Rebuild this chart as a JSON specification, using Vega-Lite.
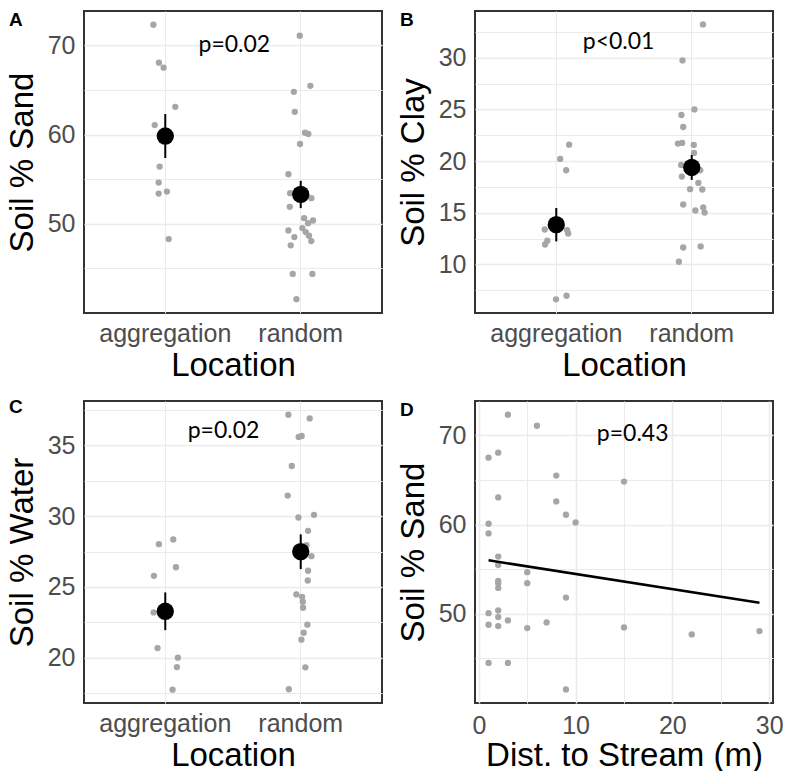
{
  "$schema": "https://vega.github.io/schema/vega-lite/v6.json",
  "background": "white",
  "padding": {"left": 5, "top": 10, "right": 0, "bottom": 0},
  "columns": 2,
  "spacing": {"row": 88, "column": 93},
  "bounds": "flush",
  "datasets": {
    "sand": [
      {"Location": "aggregation", "Sand": 72.31, "jitter": -0.088},
      {"Location": "aggregation", "Sand": 68.06, "jitter": -0.047},
      {"Location": "aggregation", "Sand": 67.5, "jitter": -0.012},
      {"Location": "aggregation", "Sand": 63.11, "jitter": 0.074},
      {"Location": "aggregation", "Sand": 61.06, "jitter": -0.078},
      {"Location": "aggregation", "Sand": 56.41, "jitter": -0.042},
      {"Location": "aggregation", "Sand": 54.62, "jitter": -0.049},
      {"Location": "aggregation", "Sand": 53.39, "jitter": -0.049},
      {"Location": "aggregation", "Sand": 53.61, "jitter": 0.012},
      {"Location": "aggregation", "Sand": 48.29, "jitter": 0.025},
      {"Location": "random", "Sand": 71.08, "jitter": -0.007},
      {"Location": "random", "Sand": 65.46, "jitter": 0.071},
      {"Location": "random", "Sand": 64.79, "jitter": -0.051},
      {"Location": "random", "Sand": 62.55, "jitter": -0.044},
      {"Location": "random", "Sand": 60.2, "jitter": 0.032},
      {"Location": "random", "Sand": 60.06, "jitter": 0.056},
      {"Location": "random", "Sand": 58.94, "jitter": -0.005},
      {"Location": "random", "Sand": 55.55, "jitter": -0.091},
      {"Location": "random", "Sand": 53.43, "jitter": -0.078},
      {"Location": "random", "Sand": 52.87, "jitter": 0.078},
      {"Location": "random", "Sand": 51.9, "jitter": -0.081},
      {"Location": "random", "Sand": 50.63, "jitter": 0.025},
      {"Location": "random", "Sand": 50.37, "jitter": 0.091},
      {"Location": "random", "Sand": 50.07, "jitter": 0.054},
      {"Location": "random", "Sand": 49.52, "jitter": 0.012},
      {"Location": "random", "Sand": 49.26, "jitter": -0.091},
      {"Location": "random", "Sand": 49.07, "jitter": 0.037},
      {"Location": "random", "Sand": 48.66, "jitter": 0.061},
      {"Location": "random", "Sand": 48.51, "jitter": -0.047},
      {"Location": "random", "Sand": 48.06, "jitter": 0.078},
      {"Location": "random", "Sand": 47.58, "jitter": -0.074},
      {"Location": "random", "Sand": 44.38, "jitter": -0.059},
      {"Location": "random", "Sand": 44.38, "jitter": 0.086},
      {"Location": "random", "Sand": 41.55, "jitter": -0.032}
    ],
    "clay": [
      {"Location": "aggregation", "Clay": 21.59, "jitter": 0.095},
      {"Location": "aggregation", "Clay": 20.21, "jitter": 0.029},
      {"Location": "aggregation", "Clay": 19.11, "jitter": 0.073},
      {"Location": "aggregation", "Clay": 13.38, "jitter": -0.085},
      {"Location": "aggregation", "Clay": 13.32, "jitter": 0.08},
      {"Location": "aggregation", "Clay": 12.99, "jitter": 0.088},
      {"Location": "aggregation", "Clay": 12.29, "jitter": -0.066},
      {"Location": "aggregation", "Clay": 11.93, "jitter": -0.083},
      {"Location": "aggregation", "Clay": 6.62, "jitter": -0.002},
      {"Location": "aggregation", "Clay": 6.97, "jitter": 0.076},
      {"Location": "random", "Clay": 33.22, "jitter": 0.083},
      {"Location": "random", "Clay": 29.74, "jitter": -0.068},
      {"Location": "random", "Clay": 25.0, "jitter": 0.02},
      {"Location": "random", "Clay": 24.46, "jitter": -0.076},
      {"Location": "random", "Clay": 23.3, "jitter": -0.063},
      {"Location": "random", "Clay": 21.69, "jitter": -0.102},
      {"Location": "random", "Clay": 21.76, "jitter": -0.071},
      {"Location": "random", "Clay": 21.56, "jitter": 0.015},
      {"Location": "random", "Clay": 20.79, "jitter": 0.017},
      {"Location": "random", "Clay": 19.63, "jitter": -0.078},
      {"Location": "random", "Clay": 19.11, "jitter": 0.063},
      {"Location": "random", "Clay": 18.5, "jitter": -0.073},
      {"Location": "random", "Clay": 17.89, "jitter": 0.049},
      {"Location": "random", "Clay": 17.28, "jitter": -0.012},
      {"Location": "random", "Clay": 17.25, "jitter": 0.078},
      {"Location": "random", "Clay": 15.8, "jitter": -0.063},
      {"Location": "random", "Clay": 15.51, "jitter": 0.085},
      {"Location": "random", "Clay": 15.22, "jitter": 0.027},
      {"Location": "random", "Clay": 15.02, "jitter": 0.095},
      {"Location": "random", "Clay": 11.64, "jitter": -0.063},
      {"Location": "random", "Clay": 11.74, "jitter": 0.066},
      {"Location": "random", "Clay": 10.26, "jitter": -0.095}
    ],
    "water": [
      {"Location": "aggregation", "Water": 28.35, "jitter": 0.059},
      {"Location": "aggregation", "Water": 28.02, "jitter": -0.047},
      {"Location": "aggregation", "Water": 26.39, "jitter": 0.079},
      {"Location": "aggregation", "Water": 25.78, "jitter": -0.084},
      {"Location": "aggregation", "Water": 23.2, "jitter": -0.086},
      {"Location": "aggregation", "Water": 20.68, "jitter": -0.057},
      {"Location": "aggregation", "Water": 20.0, "jitter": 0.093},
      {"Location": "aggregation", "Water": 19.34, "jitter": 0.086},
      {"Location": "aggregation", "Water": 17.74, "jitter": 0.054},
      {"Location": "random", "Water": 37.16, "jitter": -0.091},
      {"Location": "random", "Water": 36.9, "jitter": 0.066},
      {"Location": "random", "Water": 35.59, "jitter": -0.015},
      {"Location": "random", "Water": 35.66, "jitter": 0.007},
      {"Location": "random", "Water": 33.54, "jitter": -0.066},
      {"Location": "random", "Water": 31.45, "jitter": -0.096},
      {"Location": "random", "Water": 30.09, "jitter": 0.098},
      {"Location": "random", "Water": 29.9, "jitter": -0.017},
      {"Location": "random", "Water": 28.96, "jitter": 0.054},
      {"Location": "random", "Water": 27.95, "jitter": 0.042},
      {"Location": "random", "Water": 27.17, "jitter": 0.079},
      {"Location": "random", "Water": 26.14, "jitter": 0.054},
      {"Location": "random", "Water": 25.45, "jitter": 0.052},
      {"Location": "random", "Water": 24.47, "jitter": -0.032},
      {"Location": "random", "Water": 24.3, "jitter": 0.01},
      {"Location": "random", "Water": 23.95, "jitter": 0.015},
      {"Location": "random", "Water": 23.53, "jitter": 0.017},
      {"Location": "random", "Water": 22.33, "jitter": 0.049},
      {"Location": "random", "Water": 21.76, "jitter": 0.022},
      {"Location": "random", "Water": 21.27, "jitter": 0.005},
      {"Location": "random", "Water": 19.32, "jitter": 0.034},
      {"Location": "random", "Water": 17.77, "jitter": -0.088}
    ],
    "stream": [
      {"Distance": 3, "Sand": 72.31}, {"Distance": 6, "Sand": 71.08},
      {"Distance": 1, "Sand": 67.5}, {"Distance": 2, "Sand": 68.06},
      {"Distance": 8, "Sand": 65.49}, {"Distance": 15, "Sand": 64.82},
      {"Distance": 2, "Sand": 63.04}, {"Distance": 8, "Sand": 62.59},
      {"Distance": 9, "Sand": 61.1}, {"Distance": 10, "Sand": 60.24},
      {"Distance": 1, "Sand": 60.09}, {"Distance": 1, "Sand": 59.01},
      {"Distance": 2, "Sand": 56.41}, {"Distance": 2, "Sand": 55.47},
      {"Distance": 5, "Sand": 54.66}, {"Distance": 2, "Sand": 53.69},
      {"Distance": 2, "Sand": 53.43}, {"Distance": 5, "Sand": 53.43},
      {"Distance": 2, "Sand": 52.9}, {"Distance": 9, "Sand": 51.82},
      {"Distance": 1, "Sand": 50.07}, {"Distance": 2, "Sand": 50.37},
      {"Distance": 2, "Sand": 49.63}, {"Distance": 3, "Sand": 49.26},
      {"Distance": 1, "Sand": 48.77}, {"Distance": 2, "Sand": 48.62},
      {"Distance": 7, "Sand": 49.03}, {"Distance": 5, "Sand": 48.4},
      {"Distance": 15, "Sand": 48.47}, {"Distance": 22, "Sand": 47.69},
      {"Distance": 29, "Sand": 48.06}, {"Distance": 1, "Sand": 44.49},
      {"Distance": 3, "Sand": 44.49}, {"Distance": 9, "Sand": 41.51}
    ]
  },
  "concat": [
    {
      "width": 298, "height": 302,
      "title": {"text": "A"},
      "data": {"name": "sand"},
      "encoding": {
        "x": {"field": "Location", "type": "nominal", "title": "Location",
              "scale": {"domain": ["aggregation", "random"], "paddingInner": 0, "paddingOuter": 0.1},
              "axis": {"bandPosition": 0.5, "labelAngle": 0, "labelPadding": 8, "titlePadding": 3}},
        "y": {"field": "Sand", "type": "quantitative", "title": "Soil % Sand",
              "scale": {"domain": [40, 73.85], "nice": false, "zero": false},
              "axis": {"values": [45, 50, 55, 60, 65, 70],
                       "labelExpr": "datum.value % 10 === 0 ? datum.label : ''",
                       "gridWidth": {"condition": {"test": "datum.value % 10 !== 0", "value": 1}, "value": 1.6}}}
      },
      "layer": [
        {"mark": {"type": "point", "filled": true, "size": 40, "color": "#a6a6a6", "opacity": 1},
         "encoding": {"xOffset": {"field": "jitter", "type": "quantitative", "scale": {"domain": [-0.5, 0.5]}}}},
        {"mark": {"type": "errorbar", "extent": "stderr", "color": "black", "thickness": 2}},
        {"mark": {"type": "point", "filled": true, "size": 300, "color": "black", "opacity": 1},
         "encoding": {"y": {"field": "Sand", "aggregate": "mean", "type": "quantitative", "title": "Soil % Sand"}}},
        {"data": {"values": [{"Location": "aggregation", "jitter": 0.51, "Sand": 70, "p": "p=0.02"}]},
         "mark": {"type": "text", "font": "Lato", "fontSize": 23, "baseline": "middle", "align": "center", "color": "black"},
         "encoding": {"xOffset": {"field": "jitter", "type": "quantitative"}, "text": {"field": "p", "type": "nominal"}}}
      ]
    },
    {
      "width": 298, "height": 302,
      "title": {"text": "B"},
      "data": {"name": "clay"},
      "encoding": {
        "x": {"field": "Location", "type": "nominal", "title": "Location",
              "scale": {"domain": ["aggregation", "random"], "paddingInner": 0, "paddingOuter": 0.1},
              "axis": {"bandPosition": 0.5, "labelAngle": 0, "labelPadding": 8, "titlePadding": 3}},
        "y": {"field": "Clay", "type": "quantitative", "title": "Soil % Clay",
              "scale": {"domain": [5.3, 34.52], "nice": false, "zero": false},
              "axis": {"values": [7.5, 10, 12.5, 15, 17.5, 20, 22.5, 25, 27.5, 30, 32.5],
                       "labelExpr": "datum.value % 5 === 0 ? datum.label : ''",
                       "gridWidth": {"condition": {"test": "datum.value % 5 !== 0", "value": 1}, "value": 1.6}}}
      },
      "layer": [
        {"mark": {"type": "point", "filled": true, "size": 40, "color": "#a6a6a6", "opacity": 1},
         "encoding": {"xOffset": {"field": "jitter", "type": "quantitative", "scale": {"domain": [-0.5, 0.5]}}}},
        {"mark": {"type": "errorbar", "extent": "stderr", "color": "black", "thickness": 2}},
        {"mark": {"type": "point", "filled": true, "size": 300, "color": "black", "opacity": 1},
         "encoding": {"y": {"field": "Clay", "aggregate": "mean", "type": "quantitative", "title": "Soil % Clay"}}},
        {"data": {"values": [{"Location": "aggregation", "jitter": 0.46, "Clay": 31.5, "p": "p<0.01"}]},
         "mark": {"type": "text", "font": "Lato", "fontSize": 23, "baseline": "middle", "align": "center", "color": "black"},
         "encoding": {"xOffset": {"field": "jitter", "type": "quantitative"}, "text": {"field": "p", "type": "nominal"}}}
      ]
    },
    {
      "width": 298, "height": 302,
      "title": {"text": "C"},
      "data": {"name": "water"},
      "encoding": {
        "x": {"field": "Location", "type": "nominal", "title": "Location",
              "scale": {"domain": ["aggregation", "random"], "paddingInner": 0, "paddingOuter": 0.1},
              "axis": {"bandPosition": 0.5, "labelAngle": 0, "labelPadding": 8, "titlePadding": 3}},
        "y": {"field": "Water", "type": "quantitative", "title": "Soil % Water",
              "scale": {"domain": [16.8, 38.13], "nice": false, "zero": false},
              "axis": {"values": [17.5, 20, 22.5, 25, 27.5, 30, 32.5, 35, 37.5],
                       "labelExpr": "datum.value % 5 === 0 ? datum.label : ''",
                       "gridWidth": {"condition": {"test": "datum.value % 5 !== 0", "value": 1}, "value": 1.6}}}
      },
      "layer": [
        {"mark": {"type": "point", "filled": true, "size": 40, "color": "#a6a6a6", "opacity": 1},
         "encoding": {"xOffset": {"field": "jitter", "type": "quantitative", "scale": {"domain": [-0.5, 0.5]}}}},
        {"mark": {"type": "errorbar", "extent": "stderr", "color": "black", "thickness": 2}},
        {"mark": {"type": "point", "filled": true, "size": 300, "color": "black", "opacity": 1},
         "encoding": {"y": {"field": "Water", "aggregate": "mean", "type": "quantitative", "title": "Soil % Water"}}},
        {"data": {"values": [{"Location": "aggregation", "jitter": 0.43, "Water": 36.0, "p": "p=0.02"}]},
         "mark": {"type": "text", "font": "Lato", "fontSize": 23, "baseline": "middle", "align": "center", "color": "black"},
         "encoding": {"xOffset": {"field": "jitter", "type": "quantitative"}, "text": {"field": "p", "type": "nominal"}}}
      ]
    },
    {
      "width": 298, "height": 302,
      "title": {"text": "D"},
      "data": {"name": "stream"},
      "encoding": {
        "x": {"field": "Distance", "type": "quantitative", "title": "Dist. to Stream (m)",
              "scale": {"domain": [-0.4, 30.4], "nice": false, "zero": false},
              "axis": {"values": [0, 5, 10, 15, 20, 25, 30], "labelPadding": 10, "titlePadding": 1,
                       "labelExpr": "datum.value % 10 === 0 ? datum.label : ''",
                       "gridWidth": {"condition": {"test": "datum.value % 10 !== 0", "value": 1}, "value": 1.6}}},
        "y": {"field": "Sand", "type": "quantitative", "title": "Soil % Sand",
              "scale": {"domain": [40, 73.85], "nice": false, "zero": false},
              "axis": {"values": [45, 50, 55, 60, 65, 70],
                       "labelExpr": "datum.value % 10 === 0 ? datum.label : ''",
                       "gridWidth": {"condition": {"test": "datum.value % 10 !== 0", "value": 1}, "value": 1.6}}}
      },
      "layer": [
        {"mark": {"type": "point", "filled": true, "size": 40, "color": "#a6a6a6", "opacity": 1}},
        {"transform": [{"regression": "Sand", "on": "Distance"}],
         "mark": {"type": "line", "color": "black", "strokeWidth": 2.6}},
        {"data": {"values": [{"Distance": 15.9, "Sand": 70.2, "p": "p=0.43"}]},
         "mark": {"type": "text", "font": "Lato", "fontSize": 23, "baseline": "middle", "align": "center", "color": "black"},
         "encoding": {"text": {"field": "p", "type": "nominal"}}}
      ]
    }
  ],
  "config": {
    "view": {"stroke": "#333333", "strokeWidth": 2},
    "axis": {
      "labelFont": "Liberation Sans", "labelFontSize": 25, "labelColor": "#4d4d4d",
      "titleFont": "Liberation Sans", "titleFontSize": 33, "titleFontWeight": "normal", "titleColor": "black",
      "gridColor": "#ebebeb", "grid": true, "ticks": false, "domain": false,
      "labelPadding": 9, "labelOverlap": false, "labelFlush": false
    },
    "axisY": {"titlePadding": 8},
    "title": {"anchor": "start", "frame": "group", "font": "Liberation Sans", "fontSize": 19,
              "fontWeight": "bold", "color": "black", "dx": -75, "dy": 23, "offset": 0, "baseline": "top"}
  }
}
